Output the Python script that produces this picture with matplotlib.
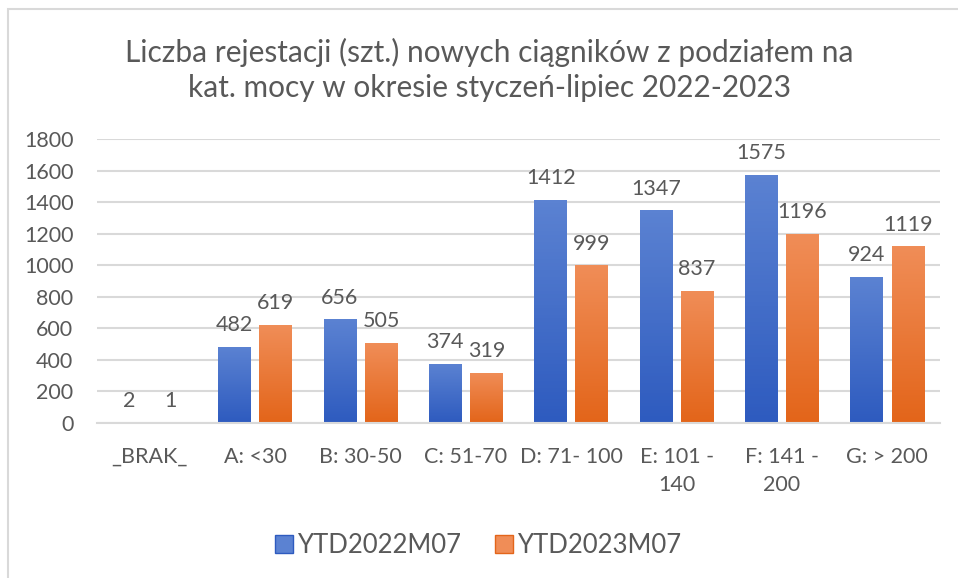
import numpy as np
import matplotlib.pyplot as plt
from matplotlib.patches import Rectangle
from matplotlib.colors import LinearSegmentedColormap

plt.rcParams['font.family'] = ['Lato', 'DejaVu Sans']

categories = ['_BRAK_', 'A: <30', 'B: 30-50', 'C: 51-70', 'D: 71- 100',
              'E: 101 -\n140', 'F: 141 -\n200', 'G: > 200']
series = ['YTD2022M07', 'YTD2023M07']
ytd2022 = [2, 482, 656, 374, 1412, 1347, 1575, 924]
ytd2023 = [1, 619, 505, 319, 999, 837, 1196, 1119]

grey = '#595959'
blue = ('#2E5BBF', '#5B82D2')
orange = ('#E3651A', '#F08D57')

fig = plt.figure(figsize=(9.58, 5.78), dpi=100)
ax = fig.add_axes([0.1013, 0.2682, 0.8799, 0.4913])

# outer frame of the chart object (only left and top edges visible)
fig.patches.append(Rectangle((8/958, -0.1), 1.2, 1.1 - 9/578, transform=fig.transFigure,
                             fill=False, ec='#D9D9D9', lw=1.5))

x = np.arange(len(categories))
w = 0.31
off = 0.195


def grad_bar(xc, h, cols):
    cmap = LinearSegmentedColormap.from_list('g', cols)
    r = Rectangle((xc - w/2, 0), w, h, fc='none', ec='none')
    ax.add_patch(r)
    im = ax.imshow(np.linspace(0, 1, 64).reshape(-1, 1), cmap=cmap, aspect='auto',
                   extent=(xc - w/2, xc + w/2, 0, max(h, 1e-6)), origin='lower', zorder=2)
    im.set_clip_path(r)


for i in range(len(categories)):
    grad_bar(x[i] - off, ytd2022[i], blue)
    grad_bar(x[i] + off, ytd2023[i], orange)
    ax.text(x[i] - off, ytd2022[i] + 75, str(ytd2022[i]), ha='center', va='bottom',
            fontsize=15.5, color=grey)
    ax.text(x[i] + off, ytd2023[i] + 75, str(ytd2023[i]), ha='center', va='bottom',
            fontsize=15.5, color=grey)

ax.set_xlim(-0.5, len(categories) - 0.5)
ax.set_ylim(0, 1800)
ax.set_yticks(np.arange(0, 1801, 200))
ax.set_xticks(x)
ax.set_xticklabels(categories, fontsize=15.5, color=grey, linespacing=1.55)
ax.tick_params(axis='y', labelsize=15.5, labelcolor=grey, length=0, pad=17)
ax.tick_params(axis='x', length=0, pad=17)
ax.grid(axis='y', color='#D9D9D9', lw=1.5, zorder=0)
ax.set_axisbelow(True)
for s in ['top', 'right', 'left']:
    ax.spines[s].set_visible(False)
ax.spines['bottom'].set_color('#D9D9D9')
ax.spines['bottom'].set_linewidth(1.5)

fig.text(0.511, 0.879, 'Liczba rejestacji (szt.) nowych ciągników z podziałem na\n'
         'kat. mocy w okresie styczeń-lipiec 2022-2023', ha='center', va='center',
         fontsize=21.5, color=grey, linespacing=1.3)

handles = [Rectangle((0, 0), 1, 1, fc=blue[1], ec=blue[0]),
           Rectangle((0, 0), 1, 1, fc=orange[1], ec=orange[0])]
fig.legend(handles, series, loc='center', bbox_to_anchor=(0.499, 0.057), ncol=2,
           frameon=False, fontsize=18.5, labelcolor=grey, handlelength=0.7,
           handleheight=0.7, handletextpad=0.15, columnspacing=1.35)

plt.savefig('out.png', dpi=100)
